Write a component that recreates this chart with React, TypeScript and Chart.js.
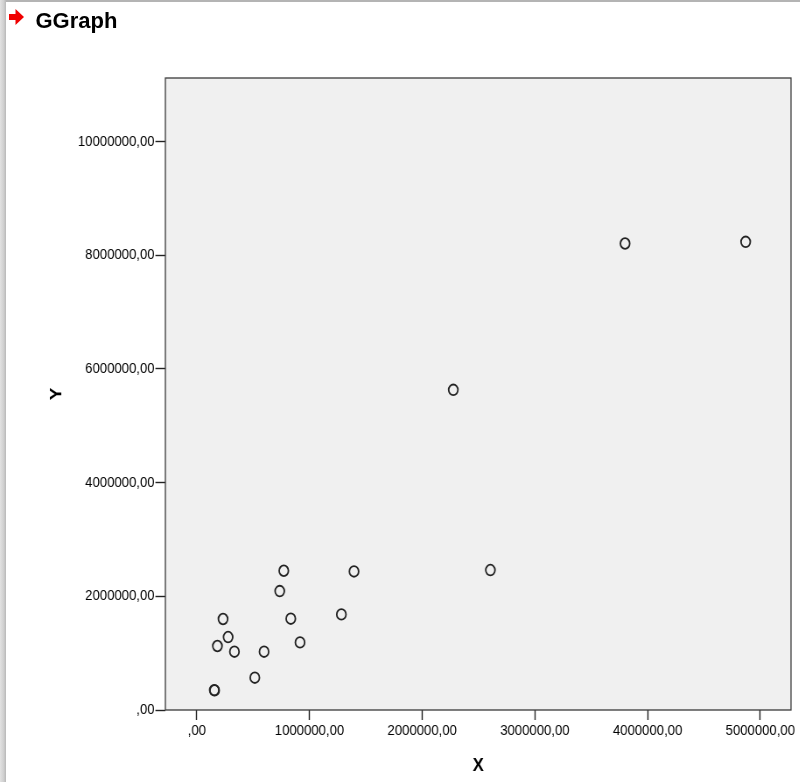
import React, { useEffect, useRef } from "react";
import { Chart, registerables } from "chart.js";

Chart.register(...registerables);

// Observations (X, Y)
const xValues = [
  155000, 158000, 183000, 233000, 278000, 334000, 515000, 597000, 736000,
  772000, 834000, 916000, 1283000, 1395000, 2276000, 2605000, 3800000, 4870000,
];
const yValues = [
  350000, 345000, 1126000, 1601000, 1284000, 1026000, 568000, 1026000, 2093000,
  2450000, 1606000, 1189000, 1682000, 2438000, 5634000, 2463000, 8208000, 8238000,
];

const xTickValues = [0, 1000000, 2000000, 3000000, 4000000, 5000000];
const xTickLabels = [",00", "1000000,00", "2000000,00", "3000000,00", "4000000,00", "5000000,00"];
const yTickValues = [0, 2000000, 4000000, 6000000, 8000000, 10000000];
const yTickLabels = [",00", "2000000,00", "4000000,00", "6000000,00", "8000000,00", "10000000,00"];

const xRange = [-278600, 5272400];
const yRange = [0, 11120000];

const pageTitle = "GGraph";
const xAxisTitle = "X";
const yAxisTitle = "Y";

// The graph image is drawn wider and squeezed horizontally to sit in the viewer
const SQUEEZE = 0.875;
const GRAPH_W = 914;
const GRAPH_H = 782;
const FONT = "'Liberation Sans', Arial, sans-serif";

const plotFrame = {
  id: "plotFrame",
  beforeDatasetsDraw(chart: any) {
    const { ctx, chartArea: a } = chart;
    ctx.save();
    ctx.fillStyle = "#f0f0f0";
    ctx.fillRect(a.left, a.top, a.right - a.left, a.bottom - a.top);
    ctx.strokeStyle = "#3a3a3a";
    ctx.lineWidth = 1.3;
    ctx.strokeRect(a.left, a.top, a.right - a.left, a.bottom - a.top);
    ctx.restore();
  },
  afterDraw(chart: any) {
    const { ctx } = chart;
    ctx.save();
    ctx.fillStyle = "#000";
    ctx.font = `bold 19px ${FONT}`;
    ctx.textAlign = "center";
    ctx.textBaseline = "middle";
    ctx.fillText(xAxisTitle, 546.6, 766);
    ctx.translate(64.8, 394);
    ctx.rotate(-Math.PI / 2);
    ctx.fillText(yAxisTitle, 0, 0);
    ctx.restore();
  },
};

function ScatterGraph() {
  const ref = useRef<HTMLCanvasElement | null>(null);

  useEffect(() => {
    if (!ref.current) return;
    const points = xValues.map((x, i) => ({ x, y: yValues[i] }));
    const chart = new Chart(ref.current, {
      type: "scatter",
      data: {
        datasets: [
          {
            data: points,
            pointRadius: 5.3,
            pointHoverRadius: 5.3,
            pointBorderWidth: 1.8,
            pointBorderColor: "#222",
            pointBackgroundColor: "rgba(0,0,0,0)",
          },
        ],
      },
      options: {
        animation: false,
        responsive: true,
        maintainAspectRatio: false,
        events: [],
        layout: { padding: { left: 0, top: 78, right: 10, bottom: 0 } },
        plugins: { legend: { display: false }, tooltip: { enabled: false } },
        scales: {
          x: {
            type: "linear",
            min: xRange[0],
            max: xRange[1],
            afterBuildTicks: (s: any) => {
              s.ticks = xTickValues.map((v) => ({ value: v }));
            },
            afterFit: (s: any) => {
              s.height = 72;
            },
            grid: {
              drawOnChartArea: false,
              drawTicks: true,
              tickLength: 10,
              tickColor: "#222",
              tickWidth: 1.4,
            },
            border: { display: false },
            ticks: {
              autoSkip: false,
              maxRotation: 0,
              padding: 2,
              color: "#000",
              font: { family: FONT, size: 15 },
              callback: (_v: any, i: number) => xTickLabels[i],
            },
          },
          y: {
            type: "linear",
            min: yRange[0],
            max: yRange[1],
            afterBuildTicks: (s: any) => {
              s.ticks = yTickValues.map((v) => ({ value: v }));
            },
            afterFit: (s: any) => {
              s.width = 189;
            },
            grid: {
              drawOnChartArea: false,
              drawTicks: true,
              tickLength: 11.4,
              tickColor: "#222",
              tickWidth: 1.4,
            },
            border: { display: false },
            ticks: {
              autoSkip: false,
              padding: 1,
              color: "#000",
              font: { family: FONT, size: 15 },
              callback: (_v: any, i: number) => yTickLabels[i],
            },
          },
        },
      },
      plugins: [plotFrame],
    });
    return () => chart.destroy();
  }, []);

  return (
    <div
      style={{
        position: "absolute",
        left: 0,
        top: 0,
        width: GRAPH_W,
        height: GRAPH_H,
        transform: `scaleX(${SQUEEZE})`,
        transformOrigin: "0 0",
      }}
    >
      <canvas ref={ref} />
    </div>
  );
}

export default function App() {
  return (
    <div
      style={{
        position: "fixed",
        left: 0,
        top: 0,
        width: 800,
        height: 782,
        overflow: "hidden",
        background: "#fff",
      }}
    >
      <ScatterGraph />
      <div
        style={{
          position: "absolute",
          left: 0,
          top: 0,
          width: 800,
          height: 2,
          background: "#b4b4b4",
        }}
      />
      <div
        style={{
          position: "absolute",
          left: 0,
          top: 0,
          width: 6,
          height: 782,
          background: "linear-gradient(to right, #e2e2e2, #d0d0d0 60%, #b8b8b8)",
        }}
      />
      <svg
        width={200}
        height={40}
        style={{ position: "absolute", left: 0, top: 0 }}
      >
        <polygon
          points="9,14 15.5,14 15.5,9 24,17 15.5,25 15.5,20 9,20"
          fill="#f00000"
        />
        <text
          x={35.5}
          y={28.3}
          fontFamily={FONT}
          fontWeight="bold"
          fontSize={22}
          fill="#000"
        >
          {pageTitle}
        </text>
      </svg>
    </div>
  );
}
